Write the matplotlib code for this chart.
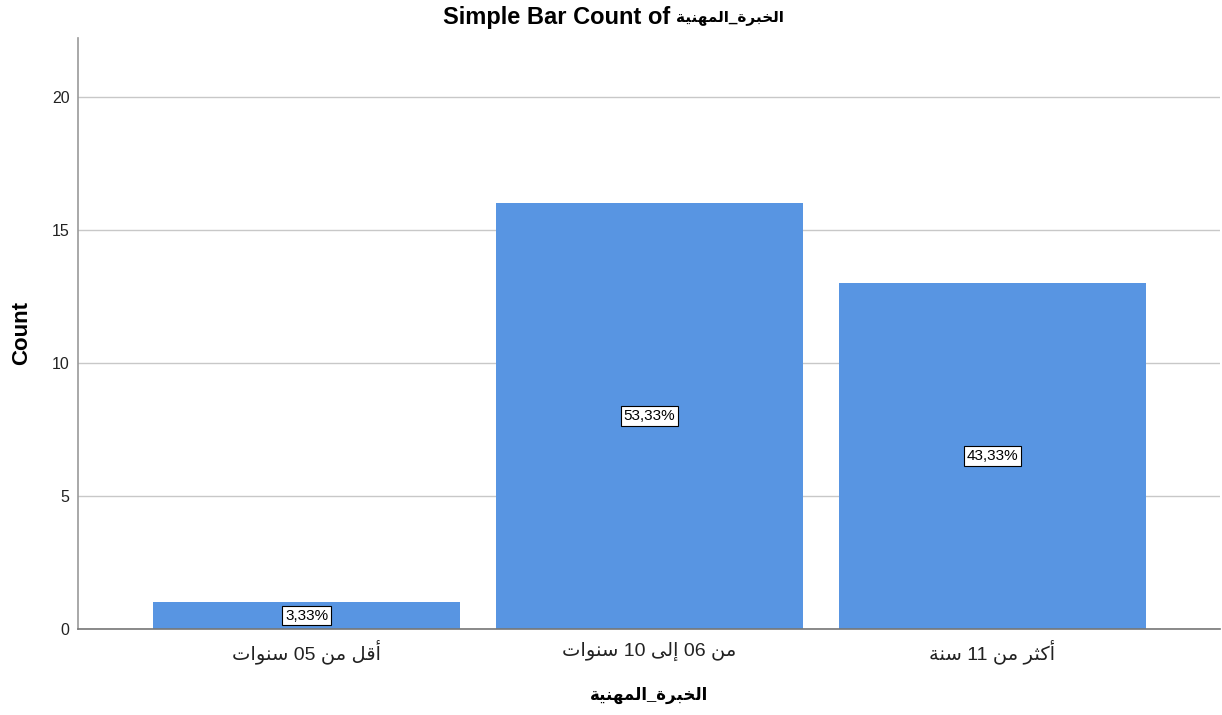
import matplotlib
matplotlib.use("Agg")
import matplotlib.pyplot as plt

# Arabic contextual forms: iso, fin, ini, med (None = right-joining only)
FORMS = {
    'ا': ('\uFE8D', '\uFE8E', None, None),
    'أ': ('\uFE83', '\uFE84', None, None),
    'إ': ('\uFE87', '\uFE88', None, None),
    'ب': ('\uFE8F', '\uFE90', '\uFE91', '\uFE92'),
    'ة': ('\uFE93', '\uFE94', None, None),
    'ت': ('\uFE95', '\uFE96', '\uFE97', '\uFE98'),
    'ث': ('\uFE99', '\uFE9A', '\uFE9B', '\uFE9C'),
    'خ': ('\uFEA5', '\uFEA6', '\uFEA7', '\uFEA8'),
    'ر': ('\uFEAD', '\uFEAE', None, None),
    'س': ('\uFEB1', '\uFEB2', '\uFEB3', '\uFEB4'),
    'ق': ('\uFED5', '\uFED6', '\uFED7', '\uFED8'),
    'ك': ('\uFED9', '\uFEDA', '\uFEDB', '\uFEDC'),
    'ل': ('\uFEDD', '\uFEDE', '\uFEDF', '\uFEE0'),
    'م': ('\uFEE1', '\uFEE2', '\uFEE3', '\uFEE4'),
    'ن': ('\uFEE5', '\uFEE6', '\uFEE7', '\uFEE8'),
    'ه': ('\uFEE9', '\uFEEA', '\uFEEB', '\uFEEC'),
    'و': ('\uFEED', '\uFEEE', None, None),
    'ى': ('\uFEEF', '\uFEF0', None, None),
    'ي': ('\uFEF1', '\uFEF2', '\uFEF3', '\uFEF4'),
}


def shape(text):
    # pick contextual forms, then put into visual (right-to-left) order
    out = []
    for i, ch in enumerate(text):
        if ch not in FORMS:
            out.append(ch)
            continue
        f = FORMS[ch]
        prev = text[i - 1] if i > 0 else ''
        nxt = text[i + 1] if i + 1 < len(text) else ''
        join_prev = prev in FORMS and FORMS[prev][2] is not None
        join_next = nxt in FORMS and f[2] is not None
        if join_prev and join_next:
            out.append(f[3])
        elif join_prev:
            out.append(f[1])
        elif join_next:
            out.append(f[2])
        else:
            out.append(f[0])
    s = ''.join(out)[::-1]
    # digit runs stay left-to-right
    res, run = '', ''
    for ch in s:
        if ch.isdigit():
            run += ch
        else:
            res += run[::-1] + ch
            run = ''
    return res + run[::-1]


var_name = 'الخبرة_المهنية'
categories = ['أقل من 05 سنوات', 'من 06 إلى 10 سنوات', 'أكثر من 11 سنة']
counts = [1, 16, 13]
pct_labels = ['3,33%', '53,33%', '43,33%']

FONTS = ['Liberation Sans', 'DejaVu Sans']
plt.rcParams['font.family'] = FONTS

fig = plt.figure(figsize=(12.22, 7.15), dpi=100)
ax = fig.add_axes([0.0638, 0.1203, 0.9345, 0.8266])

x = range(len(categories))
bars = ax.bar(x, counts, width=0.897, color='#5895E2', zorder=2)

for b, lab in zip(bars, pct_labels):
    ax.text(b.get_x() + b.get_width() / 2, b.get_height() / 2, lab,
            ha='center', va='center', fontsize=11, color='black', zorder=3,
            bbox=dict(boxstyle='square,pad=0.18', fc='white', ec='black', lw=0.8))

ax.set_xlim(-0.667, 2.664)
ax.set_ylim(0, 22.2)
ax.set_yticks([0, 5, 10, 15, 20])
ax.set_xticks(list(x))
ax.set_xticklabels([shape(c) for c in categories], fontsize=14, color='#222222')
for t in ax.get_xticklabels():
    t.set_verticalalignment('center')
ax.tick_params(axis='x', length=0, pad=16)
ax.tick_params(axis='y', length=0, pad=6, labelsize=11.5, labelcolor='#222222')

ax.grid(axis='y', color='#C8C8C8', lw=1.0, zorder=0)
for side in ['top', 'right']:
    ax.spines[side].set_visible(False)
ax.spines['left'].set_color('#999999')
ax.spines['bottom'].set_color('#777777')
ax.spines['left'].set_linewidth(1.2)
ax.spines['bottom'].set_linewidth(1.2)

ax.set_ylabel('Count', fontsize=16, fontweight='bold')
ax.yaxis.set_label_coords(-0.040, 0.5)
ax.set_xlabel(shape(var_name), fontsize=12, fontweight='bold')
ax.xaxis.set_label_coords(0.5, -0.098)

# title: latin part and arabic part drawn side by side
fig.text(0.5483, 0.975, 'Simple Bar Count of', ha='right', va='center',
         fontsize=17, fontweight='bold')
fig.text(0.5532, 0.975, shape(var_name), ha='left', va='center',
         fontsize=11, fontweight='bold')

fig.savefig('out.png', dpi=100)
